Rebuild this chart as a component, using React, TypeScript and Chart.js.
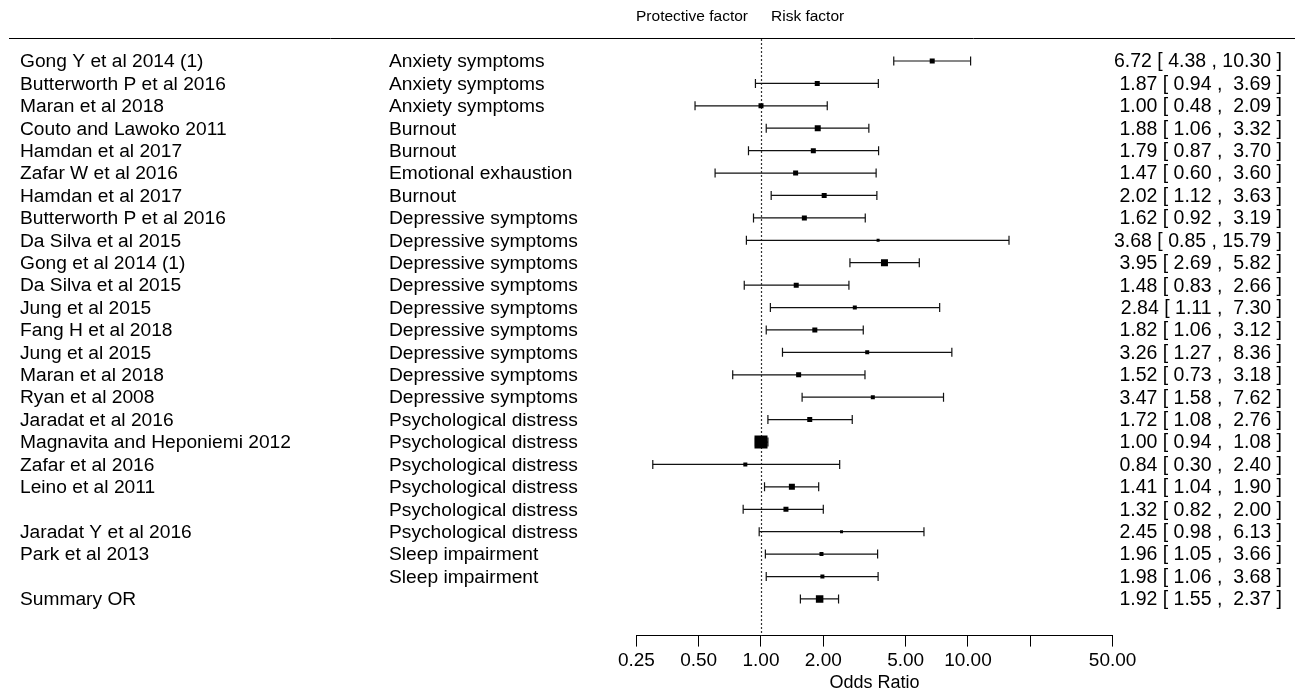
import React, { useEffect, useRef } from 'react';
import { Chart, registerables } from 'chart.js';

Chart.register(...registerables);

// ---------- data ----------
const studies = [
  'Gong Y et al 2014 (1)',
  'Butterworth P et al 2016',
  'Maran et al 2018',
  'Couto and Lawoko 2011',
  'Hamdan et al 2017',
  'Zafar W et al 2016',
  'Hamdan et al 2017',
  'Butterworth P et al 2016',
  'Da Silva et al 2015',
  'Gong et al 2014 (1)',
  'Da Silva et al 2015',
  'Jung et al 2015',
  'Fang H et al 2018',
  'Jung et al 2015',
  'Maran et al 2018',
  'Ryan et al 2008',
  'Jaradat et al 2016',
  'Magnavita and Heponiemi 2012',
  'Zafar et al 2016',
  'Leino et al 2011',
  '',
  'Jaradat Y et al 2016',
  'Park et al 2013',
  '',
];

const outcomes = [
  'Anxiety symptoms',
  'Anxiety symptoms',
  'Anxiety symptoms',
  'Burnout',
  'Burnout',
  'Emotional exhaustion',
  'Burnout',
  'Depressive symptoms',
  'Depressive symptoms',
  'Depressive symptoms',
  'Depressive symptoms',
  'Depressive symptoms',
  'Depressive symptoms',
  'Depressive symptoms',
  'Depressive symptoms',
  'Depressive symptoms',
  'Psychological distress',
  'Psychological distress',
  'Psychological distress',
  'Psychological distress',
  'Psychological distress',
  'Psychological distress',
  'Sleep impairment',
  'Sleep impairment',
];

const oddsRatios = [6.72, 1.87, 1.0, 1.88, 1.79, 1.47, 2.02, 1.62, 3.68, 3.95, 1.48, 2.84, 1.82, 3.26, 1.52, 3.47, 1.72, 1.0, 0.84, 1.41, 1.32, 2.45, 1.96, 1.98];
const lowerCI = [4.38, 0.94, 0.48, 1.06, 0.87, 0.6, 1.12, 0.92, 0.85, 2.69, 0.83, 1.11, 1.06, 1.27, 0.73, 1.58, 1.08, 0.94, 0.3, 1.04, 0.82, 0.98, 1.05, 1.06];
const upperCI = [10.3, 3.69, 2.09, 3.32, 3.7, 3.6, 3.63, 3.19, 15.79, 5.82, 2.66, 7.3, 3.12, 8.36, 3.18, 7.62, 2.76, 1.08, 2.4, 1.9, 2.0, 6.13, 3.66, 3.68];
// relative study weights (drive the square sizes)
const weights = [5, 5, 5, 6, 5, 5, 5, 5, 3, 7, 5, 4, 5, 4, 5, 4, 5, 13, 4, 6, 5, 3, 4, 4];

const summaryLabel = 'Summary OR';
const summaryOR = 1.92;
const summaryLower = 1.55;
const summaryUpper = 2.37;
const summaryWeight = 7.5;

const xTicks = [0.25, 0.5, 1, 2, 5, 10, 20, 50];
const xTickLabels = ['0.25', '0.50', '1.00', '2.00', '5.00', '10.00', '', '50.00'];
const xTitle = 'Odds Ratio';
const headerLeft = 'Protective factor';
const headerRight = 'Risk factor';

// ---------- helpers ----------
const FONT = '"Liberation Sans", Arial, sans-serif';
const nRows = studies.length;
const rowY = (i: number) => nRows - i; // top study = 24, summary = 0
const fmt = (v: number) => v.toFixed(2);
const ciText = (or: number, lo: number, hi: number) =>
  `${fmt(or)} [ ${fmt(lo)} , ${fmt(hi).padStart(5, ' ')} ]`;

export default function App() {
  const canvasRef = useRef<HTMLCanvasElement | null>(null);

  useEffect(() => {
    const canvas = canvasRef.current;
    if (!canvas) return;

    const allOR = [...oddsRatios, summaryOR];
    const allLo = [...lowerCI, summaryLower];
    const allHi = [...upperCI, summaryUpper];
    const allW = [...weights, summaryWeight];
    const allY = [...studies.map((_, i) => rowY(i)), 0];

    const ciSets: any[] = allOR.map((_, i) => ({
      type: 'scatter',
      data: [
        { x: allLo[i], y: allY[i] },
        { x: allHi[i], y: allY[i] },
      ],
      showLine: true,
      borderColor: '#111',
      borderWidth: 1.2,
      pointStyle: 'line',
      rotation: 90,
      pointRadius: 4.5,
      pointBorderColor: '#111',
      pointBorderWidth: 1.2,
      pointBackgroundColor: '#111',
      order: 2,
    }));

    const pointSet: any = {
      type: 'scatter',
      data: allOR.map((v, i) => ({ x: v, y: allY[i] })),
      pointStyle: 'rect',
      pointRadius: allW.map((w) => w / Math.SQRT2),
      backgroundColor: '#000',
      borderColor: '#000',
      borderWidth: 0,
      order: 1,
    };

    const textPlugin = {
      id: 'forestText',
      beforeDatasetsDraw(chart: any) {
        const ctx = chart.ctx;
        const xs = chart.scales.x;
        const { top, bottom } = chart.chartArea;
        const x1 = Math.round(xs.getPixelForValue(1)) + 0.5;
        ctx.save();
        ctx.strokeStyle = '#333';
        ctx.lineWidth = 1.2;
        ctx.setLineDash([2, 2]);
        ctx.beginPath();
        ctx.moveTo(x1, top + 1);
        ctx.lineTo(x1, bottom);
        ctx.stroke();
        ctx.restore();
      },
      afterDraw(chart: any) {
        const ctx = chart.ctx;
        const xs = chart.scales.x;
        const ys = chart.scales.y;
        const { top } = chart.chartArea;
        ctx.save();
        // top rule
        ctx.strokeStyle = '#000';
        ctx.lineWidth = 1;
        ctx.beginPath();
        ctx.moveTo(9, Math.round(top) + 0.5);
        ctx.lineTo(1295, Math.round(top) + 0.5);
        ctx.stroke();

        // header
        const x1 = xs.getPixelForValue(1);
        ctx.fillStyle = '#000';
        ctx.font = `15.5px ${FONT}`;
        ctx.textBaseline = 'middle';
        ctx.textAlign = 'right';
        ctx.fillText(headerLeft, x1 - 13, 16.5);
        ctx.textAlign = 'left';
        ctx.fillText(headerRight, x1 + 10, 16.5);

        // columns
        const labelFont = `19.2px ${FONT}`;
        const valueFont = `19.5px ${FONT}`;
        for (let i = 0; i < nRows; i++) {
          const y = ys.getPixelForValue(rowY(i)) + 1;
          ctx.font = labelFont;
          ctx.textAlign = 'left';
          ctx.fillText(studies[i], 20, y);
          ctx.fillText(outcomes[i], 389, y);
          ctx.font = valueFont;
          ctx.textAlign = 'right';
          ctx.fillText(ciText(oddsRatios[i], lowerCI[i], upperCI[i]), 1282, y);
        }
        const ys0 = ys.getPixelForValue(0) + 1;
        ctx.font = labelFont;
        ctx.textAlign = 'left';
        ctx.fillText(summaryLabel, 20, ys0);
        ctx.font = valueFont;
        ctx.textAlign = 'right';
        ctx.fillText(ciText(summaryOR, summaryLower, summaryUpper), 1282, ys0);
        ctx.restore();
      },
    };

    const chart = new Chart(canvas, {
      type: 'scatter',
      data: { datasets: [...ciSets, pointSet] },
      options: {
        animation: false,
        responsive: true,
        maintainAspectRatio: false,
        events: [],
        layout: { autoPadding: false, padding: { left: 636.4, right: 187.4, top: 38, bottom: -10 } },
        plugins: {
          legend: { display: false },
          tooltip: { enabled: false },
          title: { display: false },
        },
        scales: {
          x: {
            type: 'logarithmic',
            min: 0.25,
            max: 50,
            afterBuildTicks: (scale: any) => {
              scale.ticks = xTicks.map((v) => ({ value: v }));
            },
            ticks: {
              autoSkip: false,
              maxRotation: 0,
              padding: 10,
              color: '#000',
              font: { family: FONT, size: 19, lineHeight: 0.39 },
              callback: (_v: any, index: number) => xTickLabels[index],
            },
            grid: {
              display: true,
              drawOnChartArea: false,
              drawTicks: true,
              tickLength: 11,
              color: '#000',
              tickColor: '#000',
              lineWidth: 1,
            },
            border: { display: true, color: '#000', width: 1 },
            title: {
              display: true,
              text: xTitle,
              color: '#000',
              font: { family: FONT, size: 18, lineHeight: 1.0 },
              padding: { top: 0, bottom: 7 },
            },
          },
          y: {
            type: 'linear',
            display: false,
            min: -1.635,
            max: 25.025,
          },
        },
      } as any,
      plugins: [textPlugin],
    });

    return () => chart.destroy();
  }, []);

  return (
    <div style={{ position: 'fixed', left: 0, top: 0, width: 1300, height: 689, background: '#fff' }}>
      <canvas ref={canvasRef} />
    </div>
  );
}
